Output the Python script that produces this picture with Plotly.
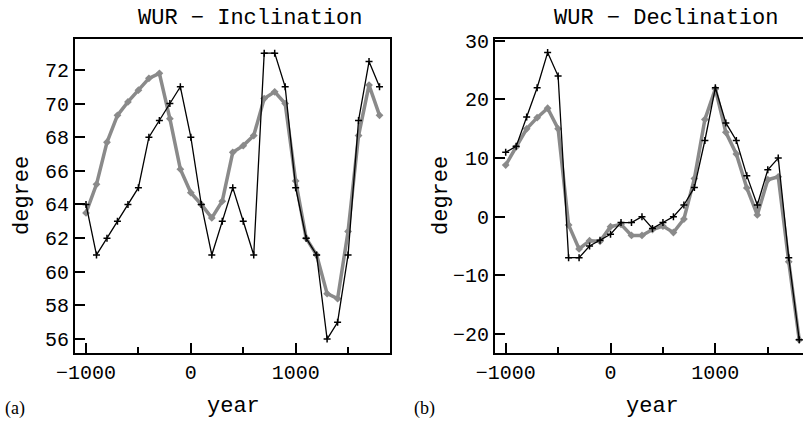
import plotly.graph_objects as go

years = [-1000, -900, -800, -700, -600, -500, -400, -300, -200, -100, 0,
         100, 200, 300, 400, 500, 600, 700, 800, 900, 1000,
         1100, 1200, 1300, 1400, 1500, 1600, 1700, 1800]

incl_black = [64, 61, 62, 63, 64, 65, 68, 69, 70, 71, 68,
              64, 61, 63, 65, 63, 61, 73, 73, 71, 65,
              62, 61, 56, 57, 61, 69, 72.5, 71]
incl_gray = [63.5, 65.2, 67.7, 69.3, 70.1, 70.8, 71.5, 71.8, 69.1, 66.1, 64.7,
             64.0, 63.2, 64.2, 67.1, 67.5, 68.1, 70.3, 70.7, 70.0, 65.4,
             62.0, 61.0, 58.7, 58.4, 62.4, 68.1, 71.1, 69.3]

decl_black = [11, 12, 17, 22, 28, 24, -7, -7, -5, -4, -3,
              -1, -1, 0, -2, -1, 0, 2, 5, 13, 22,
              16, 13, 7, 2, 8, 10, -7, -21]
decl_gray = [8.8, 11.9, 15, 16.9, 18.5, 15, -1.4, -5.5, -4.1, -4.2, -1.7,
             -1.3, -3.2, -3.2, -2.2, -1.6, -2.7, -0.4, 6.5, 16.6, 21.8,
             14.4, 10.7, 4.9, 0.3, 6.3, 6.8, -7.7, -21]

incl_ticks = [56, 58, 60, 62, 64, 66, 68, 70, 72]
decl_ticks = [-20, -10, 0, 10, 20, 30]
year_ticks = [-1000, 0, 1000]
year_minor = [-500, 500, 1500]
year_ticktext = ["\u22121000", "0", "1000"]
decl_ticktext = ["\u221220", "\u221210", "0", "10", "20", "30"]

GRAY = "#8a8a8a"
MONO = "Liberation Mono, Courier New, monospace"
W, H = 803, 422

fig = go.Figure()

for xa, ya, g, b in [("x", "y", incl_gray, incl_black), ("x2", "y2", decl_gray, decl_black)]:
    fig.add_trace(go.Scatter(x=years, y=g, xaxis=xa, yaxis=ya, mode="lines+markers",
                             line=dict(color=GRAY, width=3.5),
                             marker=dict(symbol="diamond", size=6, color=GRAY),
                             showlegend=False, hoverinfo="skip"))
    fig.add_trace(go.Scatter(x=years, y=b, xaxis=xa, yaxis=ya, mode="lines+markers",
                             line=dict(color="black", width=1.3),
                             marker=dict(symbol="cross-thin", size=5,
                                         line=dict(color="black", width=1.5)),
                             showlegend=False, hoverinfo="skip"))

def px_x(p):
    return p / W

def px_y(p):
    return 1 - p / H

tickfont = dict(family=MONO, size=20, color="black")

common_x = dict(showgrid=False, zeroline=False, showline=True, linewidth=2, linecolor="black",
                ticks="inside", ticklen=10, tickwidth=1.5, tickcolor="black",
                tickvals=year_ticks, ticktext=year_ticktext, tickfont=tickfont,
                minor=dict(tickvals=year_minor, ticks="inside", ticklen=6,
                           tickwidth=1.5, tickcolor="black", showgrid=False),
                automargin=False)
common_y = dict(showgrid=False, zeroline=False, showline=True, linewidth=2, linecolor="black",
                ticks="inside", ticklen=10, tickwidth=1.5, tickcolor="black",
                tickfont=tickfont, automargin=False)

fig.update_layout(
    template="none",
    width=W, height=H,
    margin=dict(l=0, r=0, t=0, b=0, autoexpand=False),
    paper_bgcolor="white", plot_bgcolor="white",
    xaxis=dict(common_x, domain=[px_x(75), px_x(390)], range=[-1105, 1900], anchor="y", mirror=True),
    yaxis=dict(common_y, domain=[px_y(353), px_y(39)], range=[55.17, 73.84], anchor="x",
               tickvals=incl_ticks, mirror=True),
    xaxis2=dict(common_x, domain=[px_x(495), 1.0], range=[-1102, 1836], anchor="y2", mirror=True),
    yaxis2=dict(common_y, domain=[px_y(353), px_y(39)], range=[-23.26, 30.32], anchor="x2",
                tickvals=decl_ticks, ticktext=decl_ticktext, mirror=False),
)

ann_font = dict(family=MONO, size=22, color="black")
annotations = [
    dict(text="WUR \u2212 Inclination", x=px_x(250), y=px_y(18)),
    dict(text="WUR \u2212 Declination", x=px_x(666), y=px_y(18)),
    dict(text="year", x=px_x(233), y=px_y(406)),
    dict(text="year", x=px_x(652), y=px_y(406)),
    dict(text="degree", x=px_x(22), y=px_y(196), textangle=-90),
    dict(text="degree", x=px_x(441), y=px_y(196), textangle=-90),
]
for a in annotations:
    a.update(xref="paper", yref="paper", showarrow=False, font=ann_font,
             xanchor="center", yanchor="middle")
serif = dict(family="Liberation Serif, Times New Roman, serif", size=18, color="black")
annotations += [
    dict(text="(a)", x=px_x(15), y=px_y(408), xref="paper", yref="paper", showarrow=False,
         font=serif, xanchor="center", yanchor="middle"),
    dict(text="(b)", x=px_x(424), y=px_y(408), xref="paper", yref="paper", showarrow=False,
         font=serif, xanchor="center", yanchor="middle"),
]
fig.update_layout(annotations=annotations)

fig.write_html("out.html", config={"displayModeBar": False},
               post_script="document.body.style.margin='0';document.body.style.overflow='hidden';")
